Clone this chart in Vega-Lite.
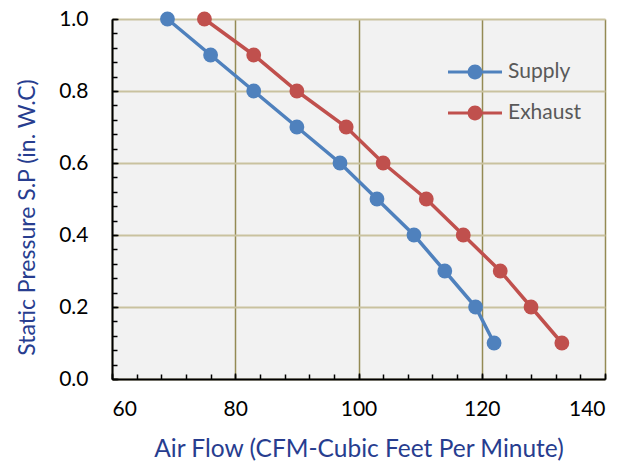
{
  "$schema": "https://vega.github.io/schema/vega-lite/v6.json",
  "width": 493,
  "height": 360,
  "autosize": "none",
  "padding": {"left": 112, "top": 19, "right": 28, "bottom": 85},
  "background": "white",
  "config": {
    "view": {"fill": "#f2f2f2", "stroke": null},
    "font": "Lato"
  },
  "data": {
    "values": [
      {"series": "Supply", "flow": 69, "pressure": 1.0},
      {"series": "Supply", "flow": 76, "pressure": 0.9},
      {"series": "Supply", "flow": 83, "pressure": 0.8},
      {"series": "Supply", "flow": 90, "pressure": 0.7},
      {"series": "Supply", "flow": 97, "pressure": 0.6},
      {"series": "Supply", "flow": 103, "pressure": 0.5},
      {"series": "Supply", "flow": 109, "pressure": 0.4},
      {"series": "Supply", "flow": 114, "pressure": 0.3},
      {"series": "Supply", "flow": 119, "pressure": 0.2},
      {"series": "Supply", "flow": 122, "pressure": 0.1},
      {"series": "Exhaust", "flow": 75, "pressure": 1.0},
      {"series": "Exhaust", "flow": 83, "pressure": 0.9},
      {"series": "Exhaust", "flow": 90, "pressure": 0.8},
      {"series": "Exhaust", "flow": 98, "pressure": 0.7},
      {"series": "Exhaust", "flow": 104, "pressure": 0.6},
      {"series": "Exhaust", "flow": 111, "pressure": 0.5},
      {"series": "Exhaust", "flow": 117, "pressure": 0.4},
      {"series": "Exhaust", "flow": 123, "pressure": 0.3},
      {"series": "Exhaust", "flow": 128, "pressure": 0.2},
      {"series": "Exhaust", "flow": 133, "pressure": 0.1}
    ]
  },
  "layer": [
    {
      "mark": {"type": "line", "strokeWidth": 3.5},
      "encoding": {
        "x": {
          "field": "flow", "type": "quantitative",
          "scale": {"domain": [60, 140], "nice": false, "zero": false},
          "axis": {
            "orient": "bottom",
            "values": [60, 80, 100, 120, 140],
            "title": "Air Flow (CFM-Cubic Feet Per Minute)",
            "grid": true, "gridColor": "#948a54", "gridWidth": 1.5,
            "domainColor": "black", "domainWidth": 2,
            "tickColor": "black", "tickSize": -6, "tickWidth": 1.5,
            "labelFont": "Lato", "labelFontSize": 21, "labelColor": "black", "labelPadding": 25,
            "titleFont": "Lato", "titleFontSize": 24.5, "titleFontWeight": "normal", "titleColor": "#273d8f", "titlePadding": 18
          }
        },
        "y": {
          "field": "pressure", "type": "quantitative",
          "scale": {"domain": [0, 1], "nice": false},
          "axis": {
            "orient": "left",
            "values": [0, 0.2, 0.4, 0.6, 0.8, 1.0],
            "format": ".1f",
            "title": "Static Pressure S.P (in. W.C)",
            "grid": true, "gridColor": "#c9c29f", "gridWidth": 2,
            "domainColor": "black", "domainWidth": 2,
            "tickColor": "black", "tickSize": -6, "tickWidth": 1.5,
            "labelFont": "Lato", "labelFontSize": 21, "labelColor": "black", "labelPadding": 30,
            "titleFont": "Lato", "titleFontSize": 23, "titleFontWeight": "normal", "titleColor": "#273d8f", "titlePadding": 19, "titleY": 198
          }
        },
        "color": {
          "field": "series", "type": "nominal",
          "scale": {"domain": ["Supply", "Exhaust"], "range": ["#4f81bd", "#c0504d"]},
          "legend": {
            "orient": "none", "legendX": 343, "legendY": 33,
            "title": null, "padding": 0, "rowPadding": 11,
            "symbolType": "M-1.35,-0.075H1.35V0.075H-1.35Z M0,-0.37A0.37,0.37,0,1,1,0,0.37A0.37,0.37,0,1,1,0,-0.37Z",
            "symbolSize": 1600, "symbolStrokeWidth": 0, "symbolOpacity": 1,
            "labelFont": "Lato", "labelFontSize": 21, "labelColor": "#595959", "labelOffset": 13
          }
        }
      }
    },
    {
      "mark": {"type": "point", "filled": true, "size": 220, "opacity": 1},
      "encoding": {
        "x": {
          "field": "flow", "type": "quantitative",
          "scale": {"domain": [60, 140], "nice": false, "zero": false},
          "axis": {
            "orient": "bottom",
            "values": [60, 64, 68, 72, 76, 80, 84, 88, 92, 96, 100, 104, 108, 112, 116, 120, 124, 128, 132, 136, 140],
            "labels": false, "grid": false, "domain": false, "title": null,
            "tickColor": "black", "tickSize": -5, "tickWidth": 1.5
          }
        },
        "y": {
          "field": "pressure", "type": "quantitative",
          "scale": {"domain": [0, 1], "nice": false},
          "axis": {
            "orient": "left",
            "values": [0, 0.04, 0.08, 0.12, 0.16, 0.2, 0.24, 0.28, 0.32, 0.36, 0.4, 0.44, 0.48, 0.52, 0.56, 0.6, 0.64, 0.68, 0.72, 0.76, 0.8, 0.84, 0.88, 0.92, 0.96, 1.0],
            "labels": false, "grid": false, "domain": false, "title": null,
            "tickColor": "black", "tickSize": -5, "tickWidth": 1.5
          }
        },
        "color": {
          "field": "series", "type": "nominal",
          "scale": {"domain": ["Supply", "Exhaust"], "range": ["#4f81bd", "#c0504d"]},
          "legend": {
            "orient": "none", "legendX": 343, "legendY": 33,
            "title": null, "padding": 0, "rowPadding": 11,
            "symbolType": "M-1.35,-0.075H1.35V0.075H-1.35Z M0,-0.37A0.37,0.37,0,1,1,0,0.37A0.37,0.37,0,1,1,0,-0.37Z",
            "symbolSize": 1600, "symbolStrokeWidth": 0, "symbolOpacity": 1,
            "labelFont": "Lato", "labelFontSize": 21, "labelColor": "#595959", "labelOffset": 13
          }
        }
      }
    }
  ],
  "resolve": {"scale": {"x": "independent", "y": "independent"}, "axis": {"x": "independent", "y": "independent"}}
}
